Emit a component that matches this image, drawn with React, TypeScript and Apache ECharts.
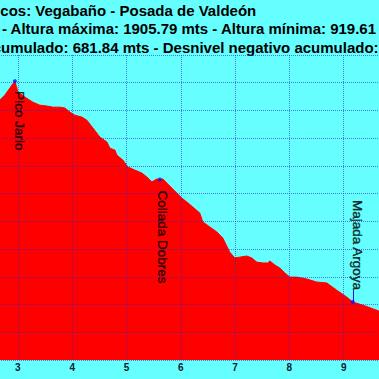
import React, { useEffect, useRef } from "react";
import * as echarts from "echarts";

// Profile: distance (km) and elevation (m)
const distanceKm = [2.48, 2.669, 2.761, 2.853, 2.945, 3.0, 3.129, 3.276, 3.405, 3.534, 3.644, 3.773, 3.865, 3.957, 4.049, 4.178, 4.27, 4.381, 4.51, 4.639, 4.694, 4.786, 4.823, 4.933, 5.025, 5.154, 5.283, 5.375, 5.467, 5.559, 5.614, 5.669, 5.743, 5.835, 5.927, 6.019, 6.111, 6.221, 6.35, 6.405, 6.534, 6.663, 6.773, 6.902, 6.994, 7.086, 7.215, 7.307, 7.399, 7.51, 7.602, 7.639, 7.731, 7.823, 7.915, 8.007, 8.136, 8.32, 8.504, 8.688, 8.872, 9.056, 9.167, 9.35, 9.645, 9.85];
const elevationM = [1790, 1838, 1856, 1881, 1905.79, 1866, 1848, 1830, 1819, 1816, 1812, 1812, 1809, 1794, 1783, 1776, 1765, 1737, 1704, 1686, 1664, 1657, 1639, 1621, 1596, 1585, 1574, 1560, 1542, 1553, 1551, 1553, 1538, 1520, 1502, 1484, 1470, 1452, 1430, 1398, 1380, 1362, 1340, 1289, 1268, 1271, 1275, 1268, 1253, 1250, 1250, 1257, 1243, 1232, 1214, 1199, 1199, 1192, 1181, 1178, 1152, 1127, 1109, 1098, 1077, 1062];

const waypointNames = ["Pico Jario", "Collada Dobres", "Majada Argoya"];
const waypointKm = [2.945, 5.614, 9.167];
const waypointElev = [1905.79, 1551, 1109];

const titleLine1Prefix = "Pi";
const titleLine1 = "Picos: Vegabaño - Posada de Valdeón";
const titleLine2 = "- Altura máxima: 1905.79 mts - Altura mínima: 919.61 mts";
const titleLine3Prefix = "Desnivel positivo ac";
const titleLine3 = "Desnivel positivo acumulado: 681.84 mts - Desnivel negativo acumulado:";

const FONT = '"Liberation Sans", Arial, sans-serif';
// The visible window is a crop of a wider chart
const OFFSET_LEFT = 145;
const CHART_W = 543;
const CHART_H = 379;

export default function App() {
  const ref = useRef<HTMLDivElement>(null);
  useEffect(() => {
    document.body.style.margin = "0";
    document.body.style.overflow = "hidden";
    const chart = echarts.init(ref.current!, null, { renderer: "svg" });

    const cv = document.createElement("canvas");
    const ctx = cv.getContext("2d")!;
    ctx.font = 'bold 15px "Liberation Sans"';
    const prefix1W = ctx.measureText(titleLine1Prefix).width;
    const prefix3W = ctx.measureText(titleLine3Prefix).width;

    const profile = distanceKm.map((d, i) => [d, elevationM[i]]);
    const points = waypointKm.map((d, i) => ({ name: waypointNames[i], value: [d, waypointElev[i]] }));

    const grid = "rgba(40,40,210,0.6)";
    const titleStyle = { fill: "#000", fontSize: 15, fontWeight: "bold", fontFamily: FONT, verticalAlign: "middle" };
    const labelBase = {
      show: true, formatter: "{b}", rotate: -90, color: "#000", fontSize: 13.5, fontFamily: FONT,
      verticalAlign: "middle", textBorderColor: "#000", textBorderWidth: 0.4,
    };

    chart.setOption({
      animation: false,
      backgroundColor: "#66ffff",
      grid: { left: 0, right: 0, top: 55, bottom: 19, containLabel: false, outerBoundsMode: "none" },
      xAxis: {
        type: "value", min: 0, max: 10, interval: 1, z: 5,
        axisLine: { show: false }, axisTick: { show: false },
        axisLabel: { color: "#102030", fontSize: 10, fontWeight: "bold", fontFamily: FONT, margin: 2 },
        splitLine: { show: true, lineStyle: { color: grid, type: "dotted", width: 1 } },
      },
      yAxis: {
        type: "value", min: 900, max: 2000, interval: 100, z: 5,
        axisLine: { show: false }, axisTick: { show: false }, axisLabel: { show: false },
        splitLine: { show: true, lineStyle: { color: grid, type: "dotted", width: 1 } },
      },
      series: [
        {
          type: "line", data: profile, symbol: "none", clip: true,
          lineStyle: { color: "#ff0000", width: 1 },
          areaStyle: { color: "#ff0000", opacity: 1 },
        },
        {
          type: "scatter", data: points.slice(0, 2), symbolSize: 4, z: 6,
          itemStyle: { color: "#1010ff" },
          label: { ...labelBase, align: "left", position: [7, 12] },
          labelLayout: (p: any) => (p.dataIndex === 1 ? { dx: 1, dy: 2 } : {}),
        },
        {
          type: "scatter", data: points.slice(2), symbolSize: 4, z: 6,
          itemStyle: { color: "#1010ff" },
          label: { ...labelBase, align: "right", position: [7, -10] },
          markLine: {
            silent: true, symbol: "none", label: { show: false },
            lineStyle: { color: "#1010ff", width: 1, type: "solid" },
            data: [[{ coord: [waypointKm[2], waypointElev[2]] }, { coord: [waypointKm[2], waypointElev[2] + 43] }]],
          },
        },
      ],
      graphic: [
        { type: "text", x: OFFSET_LEFT + 0.3 - prefix1W, y: 10, style: { ...titleStyle, text: titleLine1, align: "left" } },
        { type: "text", x: OFFSET_LEFT + 2, y: 28.5, style: { ...titleStyle, text: titleLine2, align: "left" } },
        { type: "text", x: OFFSET_LEFT + 1 - prefix3W, y: 47, style: { ...titleStyle, text: titleLine3, align: "left" } },
      ],
    });
    return () => chart.dispose();
  }, []);
  return (
    <div style={{ width: 379, height: 379, overflow: "hidden", position: "fixed", left: 0, top: 0 }}>
      <div ref={ref} style={{ width: CHART_W, height: CHART_H, position: "absolute", left: -OFFSET_LEFT, top: 0 }} />
    </div>
  );
}
